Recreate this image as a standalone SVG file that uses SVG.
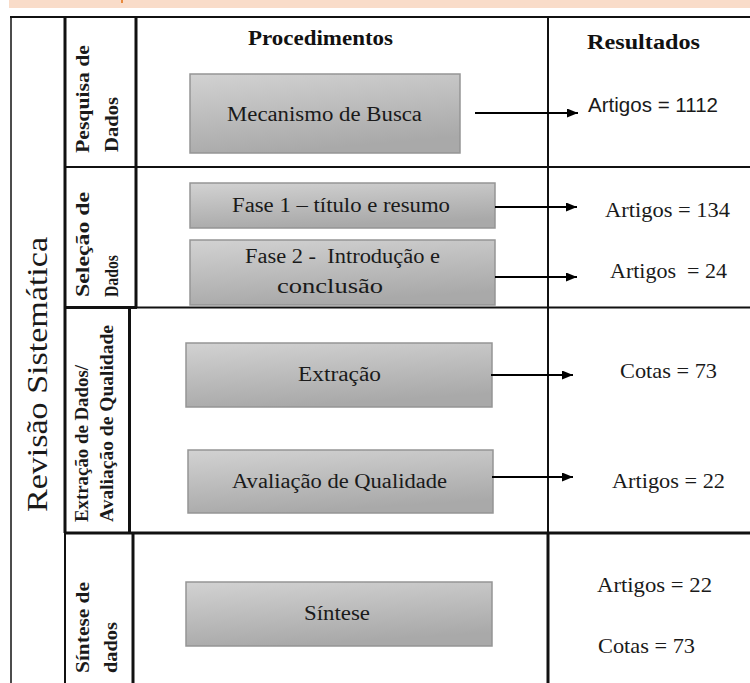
<svg xmlns="http://www.w3.org/2000/svg" width="750" height="683" viewBox="0 0 750 683">
<defs>
<linearGradient id="gb" x1="0" y1="0" x2="0.3" y2="1">
<stop offset="0" stop-color="#d2d2d2"/>
<stop offset="1" stop-color="#a9a9a9"/>
</linearGradient>
<marker id="ah" viewBox="0 0 11 9" refX="11" refY="4.5" markerWidth="11" markerHeight="9" markerUnits="userSpaceOnUse" orient="auto">
<path d="M0,0 L11,4.5 L0,9 Z" fill="#000"/>
</marker>
<style>
.box{fill:url(#gb);stroke:#959595;stroke-width:1.5}
.bl{font-family:"Liberation Serif","Times New Roman",serif;font-size:20px;fill:#1a1a1a;white-space:pre}
.hd{font-family:"Liberation Serif","Times New Roman",serif;font-size:20px;font-weight:bold;fill:#111}
.sec{font-family:"Liberation Serif","Times New Roman",serif;font-size:18px;font-weight:bold;fill:#1a1a1a}
.res{font-family:"Liberation Serif","Times New Roman",serif;font-size:21px;fill:#1a1a1a;white-space:pre}
.ress{font-family:"Liberation Sans",Arial,sans-serif;font-size:20px;fill:#1a1a1a}
.big{font-family:"Liberation Serif","Times New Roman",serif;font-size:30px;fill:#1a1a1a}
.ln{stroke:#111;fill:none}
.arr{stroke:#000;stroke-width:1.8;fill:none;marker-end:url(#ah)}
</style>
</defs>
<rect width="750" height="683" fill="#fff"/>
<rect x="9" y="0" width="741" height="8" fill="#f9dcc9"/>
<rect x="121" y="0" width="2" height="3" fill="#e8893c"/>

<g id="grid">
<line class="ln" x1="10" y1="17" x2="750" y2="17" stroke-width="2"/>
<line class="ln" x1="11" y1="17" x2="11" y2="683" stroke-width="1.5"/>
<line class="ln" x1="65" y1="17" x2="65" y2="533" stroke-width="3"/>
<line class="ln" x1="65" y1="533" x2="65" y2="683" stroke-width="2"/>
<line class="ln" x1="136" y1="17" x2="136" y2="307" stroke-width="3"/>
<line class="ln" x1="129.5" y1="307" x2="129.5" y2="533" stroke-width="3"/>
<line class="ln" x1="133" y1="533" x2="133" y2="683" stroke-width="3"/>
<line class="ln" x1="548" y1="17" x2="548" y2="533" stroke-width="2"/>
<line class="ln" x1="548" y1="533" x2="548" y2="683" stroke-width="3"/>
<line class="ln" x1="64" y1="167" x2="750" y2="167" stroke-width="2"/>
<line class="ln" x1="64" y1="307.5" x2="137" y2="307.5" stroke-width="3"/>
<line class="ln" x1="137" y1="307.5" x2="750" y2="307.5" stroke-width="2"/>
<line class="ln" x1="64" y1="533" x2="750" y2="533" stroke-width="3"/>
</g>

<g id="title">
<text class="big" transform="translate(47,512) rotate(-90)" x="0" y="0" textLength="275" lengthAdjust="spacingAndGlyphs">Revisão Sistemática</text>
</g>

<g id="headers">
<text class="hd" x="248" y="45" textLength="145" lengthAdjust="spacingAndGlyphs">Procedimentos</text>
<text class="hd" x="587" y="49" textLength="113" lengthAdjust="spacingAndGlyphs">Resultados</text>
</g>

<g id="sec-pesquisa">
<text class="sec" transform="translate(89,153) rotate(-90)" textLength="108" lengthAdjust="spacingAndGlyphs">Pesquisa de</text>
<text class="sec" transform="translate(118,152) rotate(-90)" font-size="20" textLength="55" lengthAdjust="spacingAndGlyphs">Dados</text>
</g>
<g id="sec-selecao">
<text class="sec" transform="translate(89,297) rotate(-90)" textLength="105" lengthAdjust="spacingAndGlyphs">Seleção de</text>
<text class="sec" transform="translate(118,297) rotate(-90)" font-size="18" textLength="42" lengthAdjust="spacingAndGlyphs">Dados</text>
</g>
<g id="sec-extracao">
<text class="sec" transform="translate(88,522) rotate(-90)" font-size="16" textLength="157" lengthAdjust="spacingAndGlyphs">Extração de Dados/</text>
<text class="sec" transform="translate(113,522) rotate(-90)" font-size="16" textLength="197" lengthAdjust="spacingAndGlyphs">Avaliação de Qualidade</text>
</g>
<g id="sec-sintese">
<text class="sec" transform="translate(89,673) rotate(-90)" textLength="91" lengthAdjust="spacingAndGlyphs">Síntese de</text>
<text class="sec" transform="translate(117,673) rotate(-90)" textLength="51" lengthAdjust="spacingAndGlyphs">dados</text>
</g>

<g id="n-mecanismo">
<rect class="box" x="190" y="74" width="270" height="79"/>
<text class="bl" x="227" y="121" textLength="195" lengthAdjust="spacingAndGlyphs">Mecanismo de Busca</text>
</g>
<g id="n-fase1">
<rect class="box" x="190" y="183" width="305" height="45"/>
<text class="bl" x="232" y="212" textLength="218" lengthAdjust="spacingAndGlyphs">Fase 1 – título e resumo</text>
</g>
<g id="n-fase2">
<rect class="box" x="190" y="240" width="305" height="65"/>
<text class="bl" x="245" y="263" textLength="195" lengthAdjust="spacingAndGlyphs">Fase 2 -  Introdução e</text>
<text class="bl" x="277" y="293" textLength="106" lengthAdjust="spacingAndGlyphs">conclusão</text>
</g>
<g id="n-extracao">
<rect class="box" x="186" y="343" width="306" height="64"/>
<text class="bl" x="298" y="381" textLength="83" lengthAdjust="spacingAndGlyphs">Extração</text>
</g>
<g id="n-avaliacao">
<rect class="box" x="188" y="450" width="305" height="63"/>
<text class="bl" x="232" y="488" textLength="215" lengthAdjust="spacingAndGlyphs">Avaliação de Qualidade</text>
</g>
<g id="n-sintese">
<rect class="box" x="186" y="582" width="306" height="64"/>
<text class="bl" x="304" y="620" textLength="66" lengthAdjust="spacingAndGlyphs">Síntese</text>
</g>

<g id="results">
<text class="ress" x="588" y="112" textLength="130" lengthAdjust="spacingAndGlyphs">Artigos = 1112</text>
<text class="res" x="605" y="217" textLength="125" lengthAdjust="spacingAndGlyphs">Artigos = 134</text>
<text class="res" x="610" y="278" textLength="117" lengthAdjust="spacingAndGlyphs">Artigos  = 24</text>
<text class="res" x="620" y="378" textLength="97" lengthAdjust="spacingAndGlyphs">Cotas = 73</text>
<text class="res" x="612" y="488" textLength="113" lengthAdjust="spacingAndGlyphs">Artigos = 22</text>
<text class="res" x="597" y="592" textLength="115" lengthAdjust="spacingAndGlyphs">Artigos = 22</text>
<text class="res" x="598" y="653" textLength="97" lengthAdjust="spacingAndGlyphs">Cotas = 73</text>
</g>

<g id="connectors">
<line class="arr" x1="475" y1="113" x2="578" y2="113"/>
<line class="arr" x1="495" y1="207" x2="577" y2="207"/>
<line class="arr" x1="495" y1="277" x2="577" y2="277"/>
<line class="arr" x1="491" y1="375" x2="573" y2="375"/>
<line class="arr" x1="492" y1="477" x2="573" y2="477"/>
</g>
</svg>
